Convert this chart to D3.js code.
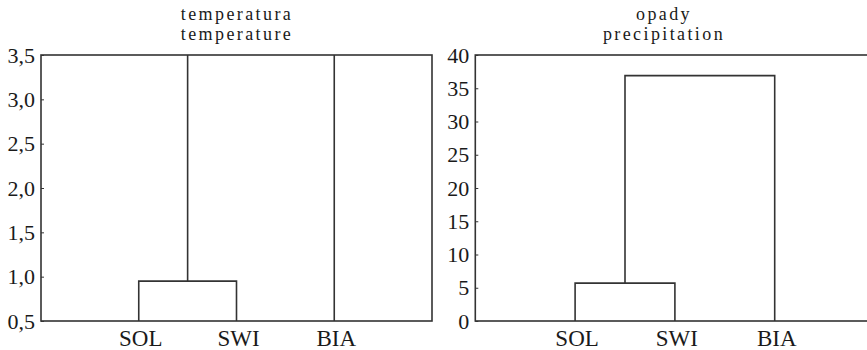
<!DOCTYPE html>
<html>
<head>
<meta charset="utf-8">
<script src="https://cdn.jsdelivr.net/npm/d3@7"></script>
<style>
  html, body { margin: 0; padding: 0; background: #fff; }
  svg { display: block; }
  svg text { font-family: "Liberation Serif", "Times New Roman", Times, "DejaVu Serif", serif; }
</style>
</head>
<body>
<svg id="chart" width="867" height="350"></svg>
<script>
// Stations (leaf order along the x axis)
const leaves = ["SOL", "SWI", "BIA"];

// Linkage heights: first SOL+SWI, then that cluster joined with BIA
const tempMerges = [0.95, 3.9];
const precipMerges = [5.7, 36.9];

// Axis tick values and titles
const tempTicks = [0.5, 1.0, 1.5, 2.0, 2.5, 3.0, 3.5];
const precipTicks = [0, 5, 10, 15, 20, 25, 30, 35, 40];
const tempTitle = ["temperatura", "temperature"];
const precipTitle = ["opady", "precipitation"];

const svg = d3.select("#chart");
const ink = "#333";
const textInk = "#1a1a1a";
const serif = "'Liberation Serif', 'Times New Roman', Times, 'DejaVu Serif', serif";
const plotTop = 55, plotBottom = 321;

function panel(opts) {
  const { id, x0, x1, domain, ticks, merges, title, titleX, decimals } = opts;
  const x = d3.scalePoint().domain(leaves).range([x0, x1]).padding(1);
  const y = d3.scaleLinear().domain(domain).range([plotBottom, plotTop]);
  const g = svg.append("g").attr("font-family", serif);

  g.append("clipPath").attr("id", id)
    .append("rect").attr("x", x0).attr("y", plotTop)
    .attr("width", x1 - x0).attr("height", plotBottom - plotTop);

  // Dendrogram links, built from the merge heights
  const base = domain[0];
  const h1 = merges[0], h2 = merges[1];
  const xa = x(leaves[0]), xb = x(leaves[1]), xc = x(leaves[2]);
  const xm = (xa + xb) / 2;
  const path = d3.path();
  path.moveTo(xa, y(base)); path.lineTo(xa, y(h1)); path.lineTo(xb, y(h1)); path.lineTo(xb, y(base));
  path.moveTo(xm, y(h1)); path.lineTo(xm, y(h2)); path.lineTo(xc, y(h2)); path.lineTo(xc, y(base));
  g.append("path")
    .attr("d", path.toString())
    .attr("clip-path", `url(#${id})`)
    .attr("fill", "none").attr("stroke", ink).attr("stroke-width", 1.6);

  // Plot frame
  g.append("rect")
    .attr("x", x0).attr("y", plotTop).attr("width", x1 - x0).attr("height", plotBottom - plotTop)
    .attr("fill", "none").attr("stroke", ink).attr("stroke-width", 1.6);

  // Y axis with small inward ticks
  const fmt = v => decimals ? d3.format(".1f")(v).replace(".", ",") : String(v);
  const ax = g.append("g").attr("transform", `translate(${x0},0)`)
    .call(d3.axisLeft(y).tickValues(ticks).tickSize(-3).tickPadding(6).tickFormat(fmt));
  ax.attr("font-family", serif);
  ax.select(".domain").remove();
  ax.selectAll(".tick line").attr("stroke", ink).attr("stroke-width", 1);
  ax.selectAll(".tick text")
    .attr("font-size", 22).attr("fill", textInk);

  // Leaf labels
  g.selectAll("text.leaf").data(leaves).join("text")
    .attr("class", "leaf")
    .attr("x", d => x(d) + 2).attr("y", 346)
    .attr("text-anchor", "middle")
    .attr("font-size", 23).attr("fill", textInk)
    .text(d => d);

  // Two-line title
  g.selectAll("text.title").data(title).join("text")
    .attr("class", "title")
    .attr("x", titleX + 1).attr("y", (d, i) => 20 + i * 20)
    .attr("text-anchor", "middle")
    .attr("font-size", 18).attr("letter-spacing", 2.4).attr("fill", textInk)
    .text(d => d);
}

panel({ id: "clipT", x0: 41, x1: 432, domain: [0.5, 3.5], ticks: tempTicks,
        merges: tempMerges, title: tempTitle, titleX: 236, decimals: true });
panel({ id: "clipP", x0: 475.3, x1: 874.5, domain: [0, 40], ticks: precipTicks,
        merges: precipMerges, title: precipTitle, titleX: 663, decimals: false });
</script>
</body>
</html>
